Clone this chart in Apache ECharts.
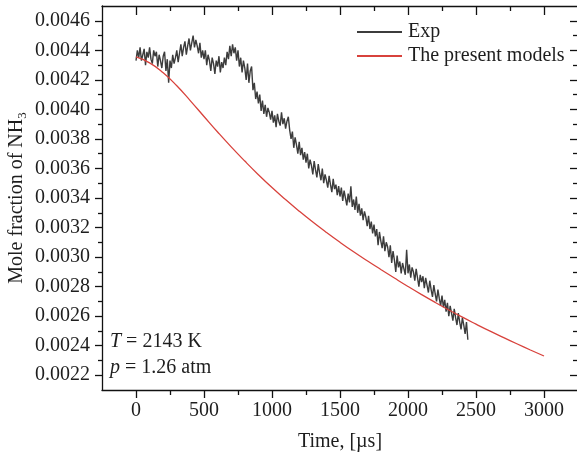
<!DOCTYPE html>
<html>
<head>
<meta charset="utf-8">
<script src="https://cdn.jsdelivr.net/npm/echarts@6/dist/echarts.min.js"></script>
<style>
  html, body { margin: 0; padding: 0; background: #ffffff; }
  #chart { width: 577px; height: 463px; }
</style>
</head>
<body>
<div id="chart"></div>
<script>
// Measured NH3 mole fraction (shock-tube absorption trace), time in microseconds
const expTime = [
  0,10,20,30,40,50,60,70,80,90,100,110,120,130,140,150,160,170,180,190,200,210,220,230,240,
  250,260,270,280,290,300,310,320,330,340,350,360,370,380,390,400,410,420,430,440,450,460,470,480,490,
  500,510,520,530,540,550,560,570,580,590,600,610,620,630,640,650,660,670,680,690,700,710,720,730,740,
  750,760,770,780,790,800,810,820,830,840,850,860,870,880,890,900,910,920,930,940,950,960,970,980,990,
  1000,1010,1020,1030,1040,1050,1060,1070,1080,1090,1100,1110,1120,1130,1140,1150,1160,1170,1180,1190,1200,1210,1220,1230,1240,
  1250,1260,1270,1280,1290,1300,1310,1320,1330,1340,1350,1360,1370,1380,1390,1400,1410,1420,1430,1440,1450,1460,1470,1480,1490,
  1500,1510,1520,1530,1540,1550,1560,1570,1580,1590,1600,1610,1620,1630,1640,1650,1660,1670,1680,1690,1700,1710,1720,1730,1740,
  1750,1760,1770,1780,1790,1800,1810,1820,1830,1840,1850,1860,1870,1880,1890,1900,1910,1920,1930,1940,1950,1960,1970,1980,1990,
  2000,2010,2020,2030,2040,2050,2060,2070,2080,2090,2100,2110,2120,2130,2140,2150,2160,2170,2180,2190,2200,2210,2220,2230,2240,
  2250,2260,2270,2280,2290,2300,2310,2320,2330,2340,2350,2360,2370,2380,2390,2400,2410,2420,2430,2440
];
const expValue = [
  0.004330,0.004400,0.004350,0.004420,0.004330,0.004370,0.004410,0.004300,0.004390,0.004350,
  0.004420,0.004340,0.004310,0.004400,0.004360,0.004390,0.004290,0.004370,0.004330,0.004280,
  0.004360,0.004390,0.004260,0.004340,0.004180,
  0.004330,0.004280,0.004370,0.004310,0.004350,0.004400,0.004320,0.004380,0.004440,0.004360,
  0.004420,0.004460,0.004370,0.004430,0.004480,0.004400,0.004450,0.004500,0.004420,0.004470,
  0.004430,0.004380,0.004450,0.004350,0.004400,
  0.004340,0.004400,0.004300,0.004370,0.004330,0.004260,0.004350,0.004310,0.004240,0.004330,
  0.004290,0.004360,0.004250,0.004320,0.004280,0.004350,0.004300,0.004390,0.004340,0.004430,
  0.004360,0.004440,0.004380,0.004420,0.004330,
  0.004400,0.004290,0.004350,0.004250,0.004330,0.004280,0.004200,0.004310,0.004180,0.004260,
  0.004290,0.004130,0.004180,0.004070,0.004120,0.004040,0.004100,0.003990,0.004060,0.003970,
  0.004030,0.003950,0.004010,0.003980,0.003930,
  0.003990,0.003910,0.003960,0.003880,0.003970,0.003920,0.003890,0.003980,0.003900,0.003940,
  0.003870,0.003920,0.003950,0.003860,0.003800,0.003850,0.003740,0.003810,0.003760,0.003700,
  0.003780,0.003690,0.003740,0.003660,0.003710,
  0.003640,0.003700,0.003600,0.003660,0.003620,0.003560,0.003650,0.003590,0.003540,0.003630,
  0.003570,0.003520,0.003600,0.003500,0.003560,0.003520,0.003470,0.003550,0.003490,0.003440,
  0.003530,0.003460,0.003490,0.003420,0.003480,
  0.003410,0.003470,0.003380,0.003450,0.003400,0.003350,0.003430,0.003370,0.003480,0.003340,
  0.003390,0.003320,0.003410,0.003300,0.003360,0.003280,0.003330,0.003250,0.003310,0.003270,
  0.003210,0.003280,0.003190,0.003240,0.003160,
  0.003220,0.003140,0.003190,0.003080,0.003170,0.003110,0.003060,0.003140,0.003040,0.003100,
  0.003070,0.003000,0.003080,0.002960,0.003040,0.002980,0.002900,0.003010,0.002930,0.002970,
  0.002890,0.002960,0.002920,0.002880,0.003050,
  0.002890,0.002950,0.002860,0.002930,0.002900,0.002840,0.002920,0.002860,0.002800,0.002880,
  0.002830,0.002870,0.002790,0.002860,0.002810,0.002760,0.002840,0.002780,0.002730,0.002810,
  0.002750,0.002700,0.002780,0.002720,0.002670,
  0.002740,0.002660,0.002710,0.002630,0.002690,0.002600,0.002670,0.002620,0.002570,0.002650,
  0.002590,0.002540,0.002620,0.002560,0.002510,0.002590,0.002540,0.002480,0.002560,0.002440
];

// Kinetic model prediction
const modelTime = [0,100,200,300,400,500,600,700,800,900,1000,1100,1200,1300,1400,1500,
  1600,1700,1800,1900,2000,2100,2200,2300,2400,2500,2600,2700,2800,2900,3000];
const modelValue = [0.004355,0.004315,0.004248,0.004160,0.004058,0.003952,0.003847,0.003746,
  0.003650,0.003558,0.003471,0.003389,0.003311,0.003237,0.003167,0.003100,0.003036,0.002975,
  0.002916,0.002858,0.002801,0.002746,0.002693,0.002642,0.002593,0.002546,0.002500,0.002456,
  0.002413,0.002371,0.002330];

// Tick positions
const xMajorTicks = [0, 500, 1000, 1500, 2000, 2500, 3000];
const xMinorTicks = [250, 750, 1250, 1750, 2250, 2750];
const yMajorTicks = [0.0022, 0.0024, 0.0026, 0.0028, 0.0030, 0.0032, 0.0034, 0.0036, 0.0038, 0.0040, 0.0042, 0.0044, 0.0046];
const yMinorTicks = [0.0023, 0.0025, 0.0027, 0.0029, 0.0031, 0.0033, 0.0035, 0.0037, 0.0039, 0.0041, 0.0043, 0.0045];

const X_MIN = -250, X_MAX = 3250;
const Y_MIN = 0.0021, Y_MAX = 0.0047;

const FONT = '"Liberation Serif", "Times New Roman", serif';
const FS = 20;
const INK = '#1e1e1e';
const AXIS_LINE = { color: '#111111', width: 1.3 };

function pairs(xs, ys) { return xs.map((x, i) => [x, ys[i]]); }

function xAxisDef(position, ticks, length, inside, showLine, extra) {
  return Object.assign({
    type: 'value', min: X_MIN, max: X_MAX, position: position,
    axisLine: { show: showLine, onZero: false, lineStyle: AXIS_LINE },
    axisTick: { show: true, inside: inside, length: length, customValues: ticks, lineStyle: AXIS_LINE },
    axisLabel: { show: false },
    splitLine: { show: false }
  }, extra || {});
}
function yAxisDef(position, ticks, length, inside, showLine, extra) {
  return Object.assign({
    type: 'value', min: Y_MIN, max: Y_MAX, position: position,
    axisLine: { show: showLine, onZero: false, lineStyle: AXIS_LINE },
    axisTick: { show: true, inside: inside, length: length, customValues: ticks, lineStyle: AXIS_LINE },
    axisLabel: { show: false },
    splitLine: { show: false }
  }, extra || {});
}

const chart = echarts.init(document.getElementById('chart'), null, { renderer: 'canvas' });

chart.setOption({
  animation: false,
  backgroundColor: '#ffffff',
  grid: { left: 102, top: 6, width: 476, height: 384, containLabel: false, outerBoundsMode: 'none' },
  xAxis: [
    xAxisDef('bottom', xMajorTicks, 8, false, true, {
      axisLabel: { show: true, customValues: xMajorTicks, margin: 11,
        fontFamily: FONT, fontSize: FS, color: INK, formatter: v => String(v) },
      name: 'Time, [µs]', nameLocation: 'middle', nameGap: 42, nameMoveOverlap: false,
      nameTextStyle: { fontFamily: FONT, fontSize: FS, color: INK }
    }),
    xAxisDef('bottom', xMinorTicks, 5, false, false),
    xAxisDef('top', xMajorTicks, 9, true, true),
    xAxisDef('top', xMinorTicks, 5, true, false)
  ],
  yAxis: [
    yAxisDef('left', yMajorTicks, 7, false, true, {
      axisLabel: { show: true, customValues: yMajorTicks, margin: 12,
        fontFamily: FONT, fontSize: FS, color: INK, formatter: v => v.toFixed(4) },
      name: '{a|Mole fraction of NH}{s|3}', nameLocation: 'middle', nameGap: 73, nameMoveOverlap: false,
      nameTextStyle: {
        fontFamily: FONT, fontSize: FS, color: INK,
        rich: {
          a: { fontFamily: FONT, fontSize: FS, color: INK, lineHeight: 24, verticalAlign: 'middle' },
          s: { fontFamily: FONT, fontSize: 13, color: INK, lineHeight: 24, verticalAlign: 'bottom' }
        }
      }
    }),
    yAxisDef('left', yMinorTicks, 4, false, false),
    yAxisDef('right', yMajorTicks, 8, true, false),
    yAxisDef('right', yMinorTicks, 5, true, false)
  ],
  legend: {
    data: ['Exp', 'The present models'],
    orient: 'vertical', left: 357, top: 22, padding: 0,
    itemGap: 4, itemWidth: 45, itemHeight: 2, icon: 'rect',
    textStyle: { fontFamily: FONT, fontSize: FS, color: INK, lineHeight: 20, padding: [0, 0, 0, 1] }
  },
  graphic: [
    { type: 'text', left: 110, top: 332, silent: true,
      style: { text: '{i|T} = 2143 K', fontFamily: FONT, fontSize: FS, fill: INK,
        rich: { i: { fontFamily: FONT, fontSize: FS, fontStyle: 'italic', fill: INK } } } },
    { type: 'text', left: 110, top: 358, silent: true,
      style: { text: '{i|p} = 1.26 atm', fontFamily: FONT, fontSize: FS, fill: INK,
        rich: { i: { fontFamily: FONT, fontSize: FS, fontStyle: 'italic', fill: INK } } } }
  ],
  series: [
    {
      name: 'Exp', type: 'line', xAxisIndex: 0, yAxisIndex: 0,
      data: pairs(expTime, expValue),
      showSymbol: false, symbol: 'none', color: '#3c3c3c',
      lineStyle: { color: '#3c3c3c', width: 1.4 }, silent: true
    },
    {
      name: 'The present models', type: 'line', xAxisIndex: 0, yAxisIndex: 0,
      data: pairs(modelTime, modelValue), smooth: 0.5,
      showSymbol: false, symbol: 'none', color: '#d8423c',
      lineStyle: { color: '#d8423c', width: 1.3 }, silent: true, z: 3
    }
  ]
});
</script>
</body>
</html>
